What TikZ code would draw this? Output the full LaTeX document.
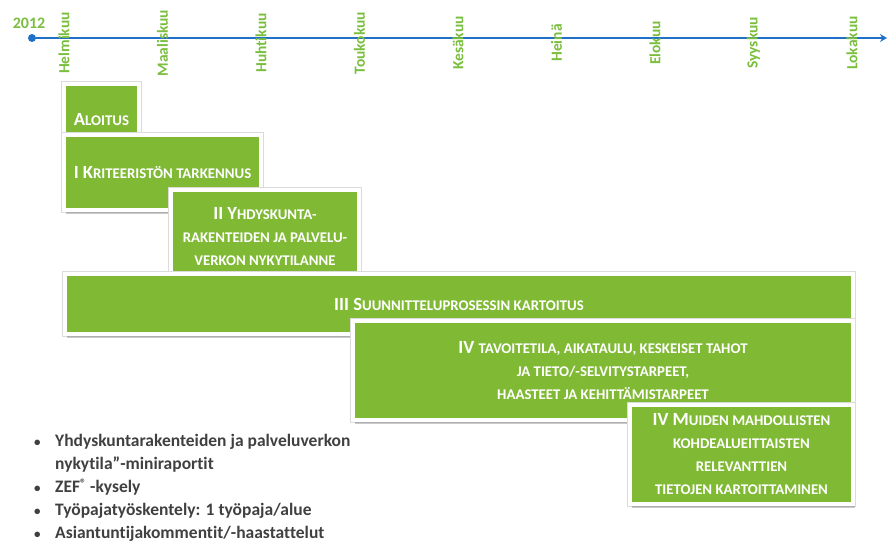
\documentclass[tikz,border=0pt]{standalone}
\usepackage{fontspec}
\setmainfont{Carlito}[Ligatures=NoCommon, RawFeature={-liga;-dlig;-clig}]
\usetikzlibrary{shadows,arrows.meta}

\definecolor{phasegreen}{RGB}{128,186,53}
\definecolor{monthgreen}{RGB}{122,190,62}
\definecolor{lineblue}{RGB}{30,112,200}
\definecolor{bulletgray}{RGB}{64,64,64}

\newcommand{\sm}[1]{{\fontsize{14.8}{23}\selectfont #1}} % fake small caps
\newcommand{\bl}{\makebox[22pt][l]{\hspace{1pt}\fontsize{13}{13}\selectfont\textbullet}}

\tikzset{
  phase/.style={draw=white, line width=4pt, fill=phasegreen, text=white, inner sep=0pt, align=center,
    font=\fontsize{18.6}{23}\selectfont\bfseries,
    preaction={draw=black!14, line width=5.6pt}, % faint edge round the white frame
    drop shadow={shadow xshift=1.5pt, shadow yshift=-4pt, opacity=0.3, fill=black!70}},
  month/.style={rotate=90, text=monthgreen, font=\fontsize{15.5}{18}\selectfont\bfseries}
}

\begin{document}
\begin{tikzpicture}[x=1pt, y=-1pt]
    \useasboundingbox (0,0) rectangle (887,543);

    % timeline
    \node[text=monthgreen, font=\fontsize{16}{18}\selectfont\bfseries] (year) at (29,23) {2012};
    \node[circle, fill=lineblue, inner sep=0pt, minimum size=8pt] (start) at (32,38) {};
    \coordinate (end) at (887,38);
    \draw[lineblue, line width=2.5pt, -{Stealth[length=7pt,width=8pt]}] (start) -- (end);

    \foreach \m [count=\i from 0] in {Helmikuu,Maaliskuu,Huhtikuu,Toukokuu,Kesäkuu,Heinä,Elokuu,Syyskuu,Lokakuu}
        \node[month] (m\i) at ({64+98.5*\i},43) {\m};

    % phases, later ones on top
    \node[phase, minimum width=75pt, minimum height=72pt] (aloitus) at (101.5,120) {A\sm{LOITUS}};
    \node[phase, minimum width=197pt, minimum height=75pt] (p1) at (162.5,172.5) {I K\sm{RITEERISTÖN TARKENNUS}};
    \node[phase, minimum width=188pt, minimum height=94pt] (p2) at (265,237)
        {II Y\sm{HDYSKUNTA-}\\ \sm{RAKENTEIDEN JA PALVELU-}\\ \sm{VERKON NYKYTILANNE}};
    \node[phase, minimum width=788pt, minimum height=60pt] (p3) at (459,304) {III S\sm{UUNNITTELUPROSESSIN KARTOITUS}};
    \node[phase, minimum width=500pt, minimum height=99pt] (p4) at (603,370.5)
        {IV \sm{TAVOITETILA, AIKATAULU, KESKEISET TAHOT}\\ \sm{JA TIETO/-SELVITYSTARPEET,}\\ \sm{HAASTEET JA KEHITTÄMISTARPEET}};
    \node[phase, minimum width=223pt, minimum height=99pt] (p5) at (741.5,454.5)
        {IV M\sm{UIDEN MAHDOLLISTEN}\\ \sm{KOHDEALUEITTAISTEN}\\ \sm{RELEVANTTIEN}\\ \sm{TIETOJEN KARTOITTAMINEN}};

    % methods
    \node[anchor=north west, align=left, inner sep=0pt, text=bulletgray,
          font=\fontsize{17.5}{22.9}\selectfont\bfseries] (methods) at (33,434)
        {\bl Yhdyskuntarakenteiden ja palveluverkon\\
         \hspace*{22pt}nykytila”-miniraportit\\
         \bl ZEF{\fontsize{12}{12}\selectfont\raisebox{5pt}{®}} -kysely\\
         \bl Työpajatyöskentely: 1 työpaja/alue\\
         \bl Asiantuntijakommentit/-haastattelut};
\end{tikzpicture}
\end{document}
